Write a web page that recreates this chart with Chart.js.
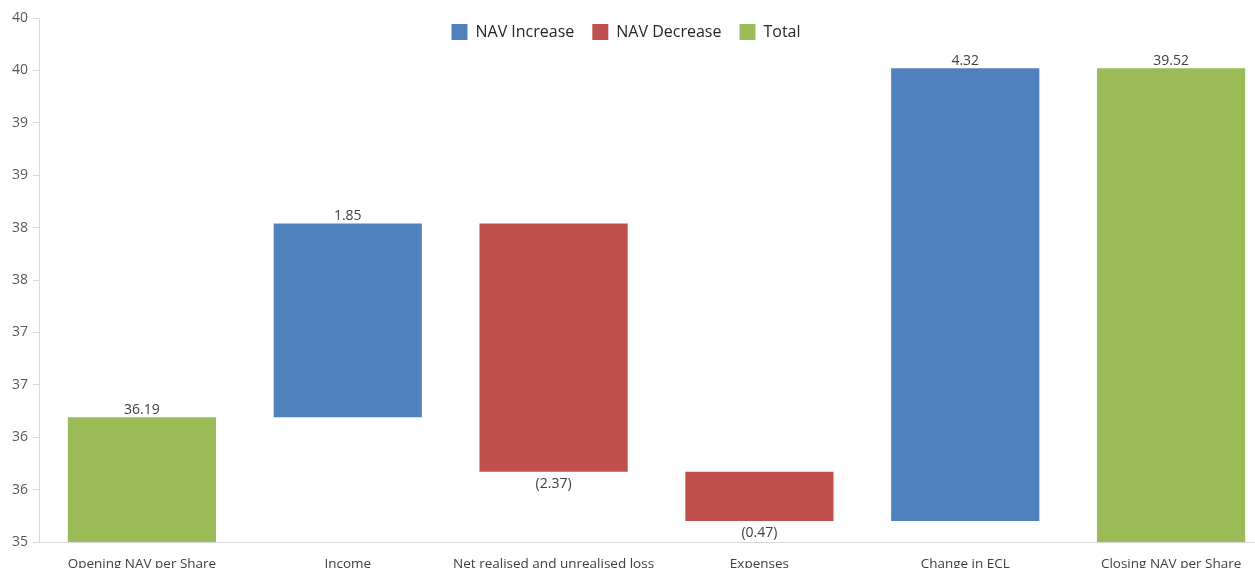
<!DOCTYPE html>
<html>
<head>
<meta charset="utf-8">
<script src="https://cdn.jsdelivr.net/npm/chart.js@4.4.1/dist/chart.umd.min.js"></script>
<style>
  html, body { margin: 0; padding: 0; background: #ffffff; overflow: hidden; width: 1255px; height: 568px; }
  #wrap { position: absolute; left: 0; top: 0; width: 1280px; height: 568px; }
</style>
</head>
<body>
<div id="wrap"><canvas id="c" width="1280" height="568"></canvas></div>
<script>
// ---- data ----
const categories = ['Opening NAV per Share', 'Income', 'Net realised and unrealised loss', 'Expenses', 'Change in ECL', 'Closing NAV per Share'];
const values = [36.19, 1.85, -2.37, -0.47, 4.32, 39.52];
const barStart = [35, 36.19, 38.04, 35.67, 35.20, 35];
const barEnd = [36.19, 38.04, 35.67, 35.20, 39.52, 39.52];
const barKind = ['total', 'increase', 'decrease', 'decrease', 'increase', 'total'];
const yTickLabels = ['35', '36', '36', '37', '37', '38', '38', '39', '39', '40', '40'];
const seriesNames = { increase: 'NAV Increase', decrease: 'NAV Decrease', total: 'Total' };
const seriesColors = { increase: '#4F81BD', decrease: '#C0504D', total: '#9BBB59' };

function rangesFor(kind) {
  return categories.map((c, i) => barKind[i] === kind ? [barStart[i], barEnd[i]] : null);
}
function labelFor(v) {
  return v < 0 ? '(' + Math.abs(v).toFixed(2) + ')' : v.toFixed(2);
}

Chart.defaults.font.family = "'Open Sans', sans-serif";
Chart.defaults.font.size = 14;
Chart.defaults.color = '#404040';

const legendPlacer = {
  id: 'legendPlacer',
  afterInit(chart) {
    const lg = chart.legend;
    const fit = lg.fit.bind(lg);
    lg.fit = function () { fit(); this._fullH = this.height; this.height = 0; };
  },
  afterLayout(chart) {
    const lg = chart.legend;
    lg.top = 6;
    lg.height = lg._fullH;
    lg.bottom = lg.top + lg._fullH;
    lg.left = 0;
    lg.right = 1252;
    lg.width = 1252;
  }
};

const valueLabels = {
  id: 'valueLabels',
  afterDatasetsDraw(chart) {
    const ctx = chart.ctx;
    ctx.save();
    ctx.font = "14px 'Open Sans', sans-serif";
    ctx.fillStyle = '#404040';
    ctx.textAlign = 'center';
    ctx.textBaseline = 'alphabetic';
    chart.data.datasets.forEach((ds, di) => {
      const meta = chart.getDatasetMeta(di);
      meta.data.forEach((el, i) => {
        if (ds.data[i] == null) return;
        const top = Math.min(el.y, el.base);
        const bottom = Math.max(el.y, el.base);
        const v = values[i];
        if (v < 0) {
          ctx.fillText(labelFor(v), el.x, bottom + 16);
        } else {
          ctx.fillText(labelFor(v), el.x, top - 3);
        }
      });
    });
    ctx.restore();
  }
};

new Chart(document.getElementById('c'), {
  type: 'bar',
  data: {
    labels: categories,
    datasets: ['increase', 'decrease', 'total'].map(k => ({
      label: seriesNames[k],
      data: rangesFor(k),
      backgroundColor: seriesColors[k],
      borderWidth: 0,
      grouped: false
    }))
  },
  options: {
    responsive: false,
    devicePixelRatio: 1,
    animation: false,
    layout: { padding: { left: 0, right: 6, top: 18, bottom: 0 } },
    plugins: {
      legend: {
        position: 'top',
        align: 'center',
        labels: {
          boxWidth: 16,
          boxHeight: 16,
          padding: 18,
          color: '#262626',
          font: { size: 16 }
        }
      },
      tooltip: { enabled: false }
    },
    scales: {
      x: {
        grid: { display: true, drawOnChartArea: false, drawTicks: false },
        border: { display: true, color: '#d9d9d9', width: 1 },
        ticks: { padding: 14, maxRotation: 0, autoSkip: false, color: '#404040', font: { size: 13.5 } },
        afterFit(scale) { scale.height = 26; }
      },
      y: {
        min: 35,
        max: 40,
        grid: { display: true, drawOnChartArea: false, drawTicks: true, tickLength: 6, color: '#d9d9d9' },
        border: { display: true, color: '#d9d9d9', width: 1 },
        ticks: {
          stepSize: 0.5,
          padding: 5,
          color: '#595959',
          font: { size: 14 },
          callback: (v, i) => yTickLabels[i]
        },
        afterFit(scale) { scale.width = 39; }
      }
    }
  },
  plugins: [legendPlacer, valueLabels]
});
</script>
</body>
</html>
